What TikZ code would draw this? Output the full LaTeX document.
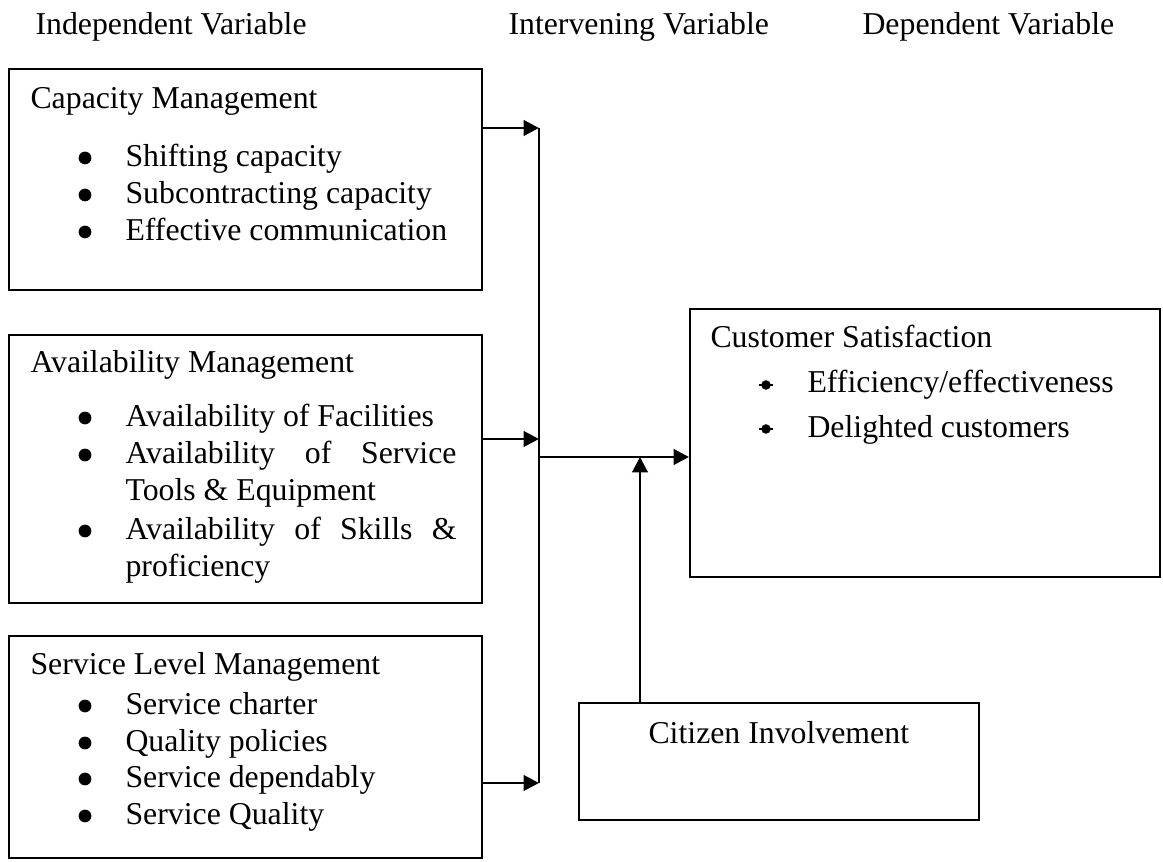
\documentclass[tikz,border=0pt]{standalone}
\usepackage{fontspec}
\setmainfont{Liberation Serif}
\usetikzlibrary{arrows.meta,fit}

\tikzset{
  frame/.style={draw, line width=0.75pt, inner sep=0pt},
  txt/.style={anchor=base west, inner sep=0pt, font=\fontsize{12}{14}\selectfont},
  dot/.style={circle, fill, inner sep=0pt, minimum size=4.8pt},
  smalldot/.style={circle, fill, inner sep=0pt, minimum size=3.6pt},
  tick/.style={line width=0.6pt},
  link/.style={line width=1.1pt},
  arr/.style={link, -{Triangle[length=5.8pt, width=5.8pt]}}
}

\begin{document}
\begin{tikzpicture}[x=0.37736pt, y=-0.37736pt]
\useasboundingbox (0,0) rectangle (1163,862);

% column headings
\node[txt] (hIndep) at (35,35) {Independent Variable};
\node[txt] (hInter) at (508,35) {Intervening Variable};
\node[txt] (hDep)   at (862,35) {Dependent Variable};

% independent variable boxes
\node[frame, fit={(9,69) (482,290)}] (cap) {};
\node[frame, fit={(9,335) (482,603)}] (avail) {};
\node[frame, fit={(9,636) (482,858)}] (slm) {};

% capacity management
\node[txt] (capT) at (30,109) {Capacity Management};
\node[dot] (capD1) at (85,158) {};
\node[txt] (capI1) at (125,167) {Shifting capacity};
\node[dot] (capD2) at (85,195) {};
\node[txt] (capI2) at (125,204) {Subcontracting capacity};
\node[dot] (capD3) at (85,232) {};
\node[txt] (capI3) at (125,241) {Effective communication};

% availability management
\node[txt] (avT) at (30,373) {Availability Management};
\node[dot] (avD1) at (85,418) {};
\node[txt] (avI1) at (125,427) {Availability of Facilities};
\node[dot] (avD2) at (85,455) {};
\node[txt] (avI2) at (125,464) {\makebox[124.9pt][s]{Availability of Service}};
\node[txt] (avI2b) at (125,501) {Tools \& Equipment};
\node[dot] (avD3) at (85,531) {};
\node[txt] (avI3) at (125,540) {\makebox[124.9pt][s]{Availability of Skills \&}};
\node[txt] (avI3b) at (125,577) {proficiency};

% service level management
\node[txt] (slT) at (30,675) {Service Level Management};
\node[dot] (slD1) at (85,706) {};
\node[txt] (slI1) at (125,715) {Service charter};
\node[dot] (slD2) at (85,743) {};
\node[txt] (slI2) at (125,752) {Quality policies};
\node[dot] (slD3) at (85,779) {};
\node[txt] (slI3) at (125,788) {Service dependably};
\node[dot] (slD4) at (85,816) {};
\node[txt] (slI4) at (125,825) {Service Quality};

% dependent variable
\node[frame, fit={(690,309) (1160,577)}] (cust) {};
\node[txt] (custT) at (710,348) {Customer Satisfaction};
\node[smalldot] (cuD1) at (766,385) {};
\draw[tick] (cuD1) ++(-2.8pt,0) -- ++(5.6pt,0);
\node[txt] (cuI1) at (807,393) {Efficiency/effectiveness};
\node[smalldot] (cuD2) at (766,429) {};
\draw[tick] (cuD2) ++(-2.8pt,0) -- ++(5.6pt,0);
\node[txt] (cuI2) at (807,438) {Delighted customers};

% intervening variable
\node[frame, fit={(579,703) (979,820)}] (cit) {};
\node[txt] (citT) at (648,744) {Citizen Involvement};

% connectors
\coordinate (b1) at (539,128);
\coordinate (b2) at (539,439);
\coordinate (b3) at (539,783);
\coordinate (jn) at (539,457);
\coordinate (mg) at (640,457);

\draw[link] (b1) -- (b3);
\draw[arr] (cap.east |- b1) -- (b1);
\draw[arr] (avail.east |- b2) -- (b2);
\draw[arr] (slm.east |- b3) -- (b3);
\draw[arr] (jn) -- (jn -| cust.west);
\draw[arr] (mg |- cit.north) -- (mg);
\end{tikzpicture}
\end{document}
